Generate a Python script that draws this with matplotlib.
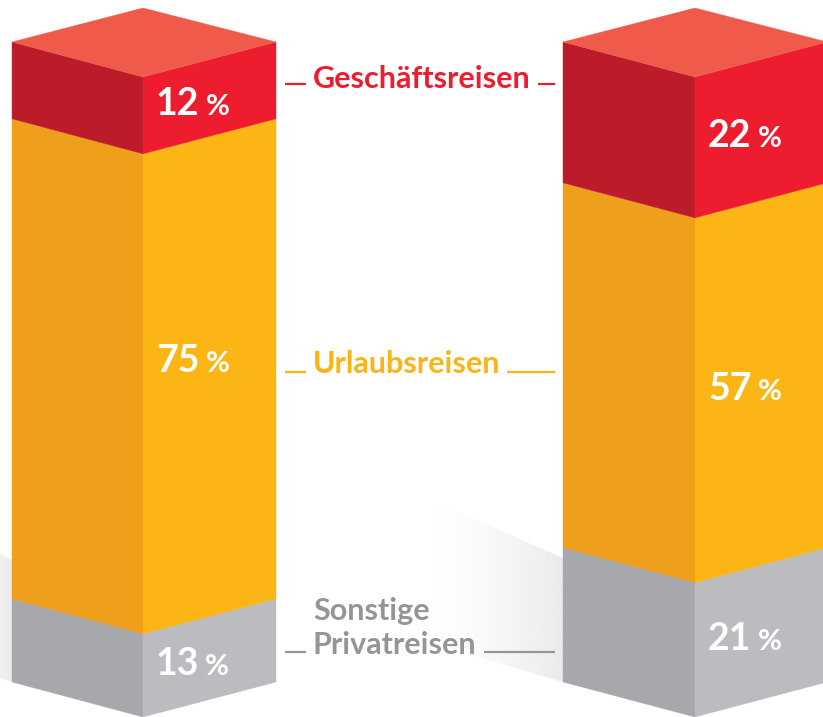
import numpy as np
import matplotlib.pyplot as plt
from matplotlib.patches import Polygon
from matplotlib.colors import to_rgb

# Daten (Anteile in %), von unten nach oben
segments = ['Sonstige Privatreisen', 'Urlaubsreisen', 'Geschäftsreisen']
left_values = [13, 75, 12]
right_values = [21, 57, 22]
label_lines = [['Sonstige', 'Privatreisen'], ['Urlaubsreisen'], ['Geschäftsreisen']]

# Farben: (linke Seite, rechte Seite)
face_colors = [('#a7a8ac', '#bbbcc0'), ('#ee9f1b', '#fbb616'), ('#bc1b2a', '#ed1c2e')]
top_color = '#ef5a4b'
text_colors = ['#939598', '#f9b418', '#ed1c2e']

plt.rcParams['font.family'] = ['Lato', 'DejaVu Sans']

fig = plt.figure(figsize=(8.23, 7.17), dpi=100)
ax = fig.add_axes([0, 0, 1, 1])
ax.set_xlim(0, 823)
ax.set_ylim(717, 0)
ax.axis('off')

base_y = 682      # untere Seitenkante
px_per_pct = 6.4  # Höhe pro Prozentpunkt
dz = 35           # Tiefe der Isometrie
columns = [(12, 143, 276, left_values), (563, 695, 827, right_values)]


def shadow(poly, x0, x1, color, alpha_max):
    rgb = to_rgb(color)
    img = np.zeros((1, 256, 4))
    img[..., :3] = rgb
    img[..., 3] = np.linspace(0, 1, 256) ** 1.5 * alpha_max
    if x1 < x0:
        img = img[:, ::-1]
        x0, x1 = x1, x0
    patch = Polygon(poly, closed=True, facecolor='none', edgecolor='none')
    ax.add_patch(patch)
    im = ax.imshow(img, extent=(x0, x1, 717, 400), aspect='auto', zorder=0)
    im.set_clip_path(patch)


# Schatten hinter den Säulen
shadow([(563, 558), (563, 682), (420, 640), (420, 495)], 430, 563, '#d6d6d8', 0.5)
shadow([(12, 560), (12, 682), (-60, 660), (-60, 520)], -80, 12, '#d6d6d8', 0.45)

renderer = fig.canvas.get_renderer()


def pct_label(x, y, value):
    t = ax.text(x, y, str(value), color='white', fontsize=27, fontweight='bold',
                va='baseline', ha='left', zorder=5)
    bb = t.get_window_extent(renderer).transformed(ax.transData.inverted())
    ax.text(bb.x1 + 6, y, '%', color='white', fontsize=21, fontweight='bold',
            va='baseline', ha='left', zorder=5)


label_shift = [[0, -22, 0], [0, 0, 0]]

for ci, (L, F, R, values) in enumerate(columns):
    cum = 0
    for si, v in enumerate(values):
        y0 = base_y - cum * px_per_pct
        y1 = base_y - (cum + v) * px_per_pct
        lc, rc = face_colors[si]
        ax.add_patch(Polygon([(L, y0), (F, y0 + dz), (F, y1 + dz), (L, y1)],
                             closed=True, facecolor=lc, edgecolor=lc, lw=0.3, zorder=2))
        ax.add_patch(Polygon([(F, y0 + dz), (R, y0), (R, y1), (F, y1 + dz)],
                             closed=True, facecolor=rc, edgecolor=rc, lw=0.3, zorder=2))
        # Beschriftung auf der rechten Seite
        lx = F + 13
        cx = F + 50
        cy = (y0 + y1) / 2 + dz - (cx - F) * dz / (R - F) + label_shift[ci][si]
        pct_label(lx, cy + 13, v)
        cum += v
    ytop = base_y - cum * px_per_pct
    ax.add_patch(Polygon([(L, ytop), (F, ytop - dz + 1), (R, ytop), (F, ytop + dz)],
                         closed=True, facecolor=top_color, edgecolor=top_color, lw=0.3, zorder=3))

# Legende in der Mitte
legend_baselines = [[620, 654], [373], [88]]
line_y = [652, 372, 84]
for si in range(len(segments)):
    col = text_colors[si]
    last = None
    for line, yb in zip(label_lines[si], legend_baselines[si]):
        last = ax.text(313, yb, line, color=col, fontsize=22, fontweight='bold',
                       va='baseline', ha='left')
    bb = last.get_window_extent(renderer).transformed(ax.transData.inverted())
    ax.plot([285, 306], [line_y[si]] * 2, color=col, lw=1.6, solid_capstyle='butt')
    ax.plot([bb.x1 + 7, 555], [line_y[si]] * 2, color=col, lw=1.6, solid_capstyle='butt')

fig.savefig('out.png', dpi=100)
